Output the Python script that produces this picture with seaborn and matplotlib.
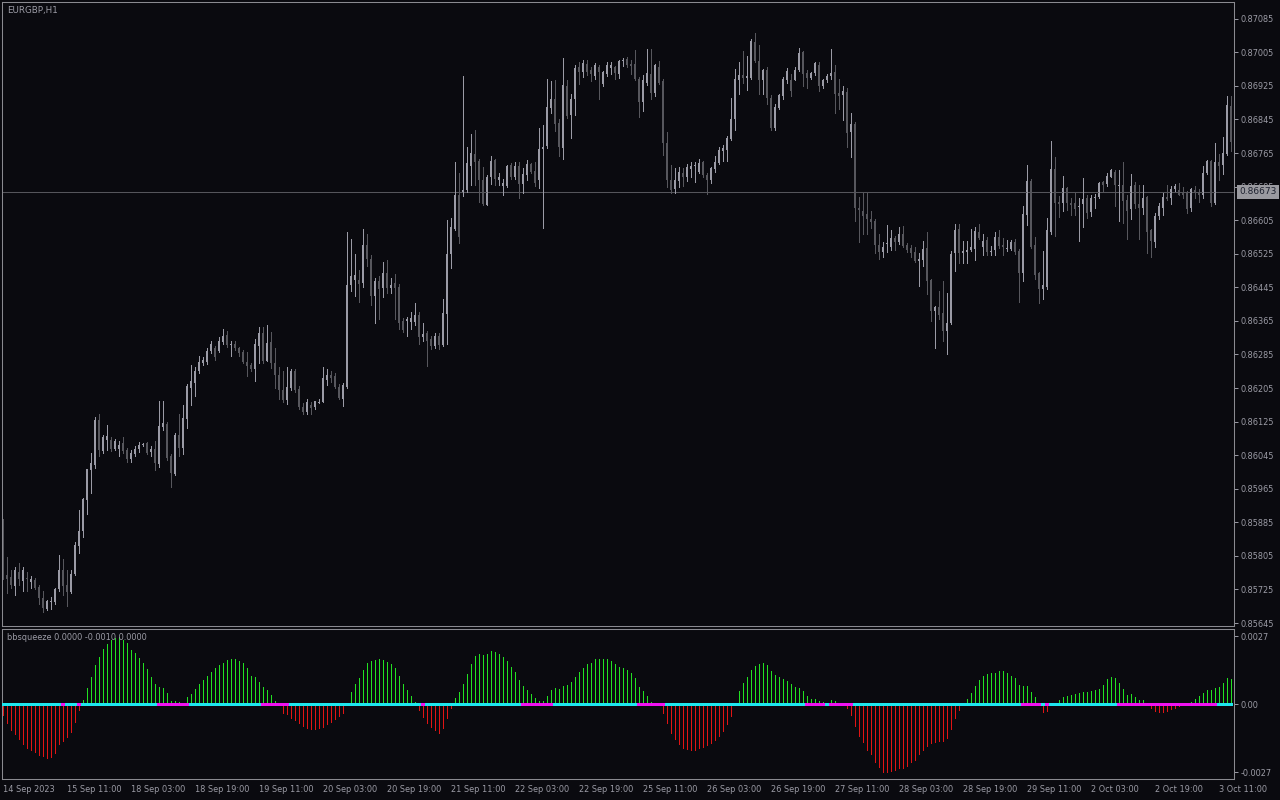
import numpy as np
import pandas as pd
import matplotlib
matplotlib.use("Agg")
import matplotlib.pyplot as plt
import seaborn as sns

# EURGBP H1 candles, prices in points (x 1e-5)
opens = [
    85887, 85759, 85754, 85734, 85766, 85746, 85752, 85743, 85748, 85731,
    85704, 85679, 85697, 85695, 85726, 85771, 85736, 85719, 85761, 85829,
    85865, 85939, 86010, 86021, 86129, 86055, 86081, 86081, 86060, 86060,
    86075, 86058, 86035, 86048, 86060, 86071, 86074, 86052, 86060, 86023,
    86112, 86119, 86043, 86001, 86092, 86061, 86132, 86205, 86218, 86245,
    86265, 86268, 86294, 86301, 86294, 86314, 86331, 86308, 86311, 86301,
    86290, 86268, 86260, 86250, 86306, 86336, 86269, 86315, 86264, 86237,
    86200, 86177, 86205, 86245, 86203, 86161, 86149, 86164, 86161, 86171,
    86172, 86225, 86237, 86233, 86208, 86180, 86208, 86450, 86462, 86463,
    86455, 86547, 86512, 86425, 86460, 86444, 86480, 86444, 86455, 86445,
    86366, 86364, 86362, 86363, 86380, 86326, 86336, 86323, 86306, 86330,
    86308, 86382, 86524, 86585, 86666, 86672, 86677, 86734, 86763, 86746,
    86702, 86641, 86709, 86748, 86702, 86686, 86687, 86737, 86707, 86733,
    86692, 86712, 86739, 86723, 86702, 86775, 86783, 86873, 86895, 86836,
    86778, 86924, 86856, 86893, 86969, 86959, 86978, 86964, 86949, 86969,
    86929, 86953, 86968, 86969, 86954, 86985, 86989, 86978, 86978, 86941,
    86886, 86933, 86954, 86908, 86971, 86936, 86788, 86702, 86679, 86699,
    86718, 86709, 86727, 86735, 86719, 86743, 86712, 86702, 86727, 86742,
    86770, 86773, 86798, 86846, 86940, 86951, 86944, 86944, 87030, 86984,
    86939, 86962, 86896, 86825, 86873, 86901, 86939, 86939, 86938, 86964,
    87006, 86956, 86943, 86956, 86976, 86924, 86938, 86949, 86958, 86907,
    86903, 86911, 86815, 86834, 86635, 86628, 86620, 86609, 86603, 86545,
    86530, 86550, 86540, 86563, 86552, 86573, 86545, 86539, 86529, 86510,
    86510, 86539, 86462, 86389, 86397, 86384, 86340, 86360, 86527, 86583,
    86527, 86530, 86535, 86537, 86578, 86540, 86557, 86530, 86535, 86566,
    86547, 86538, 86537, 86552, 86532, 86479, 86618, 86699, 86547, 86479,
    86440, 86447, 86576, 86728, 86649, 86646, 86681, 86646, 86646, 86638,
    86644, 86659, 86624, 86659, 86661, 86696, 86691, 86709, 86721, 86686,
    86689, 86652, 86631, 86689, 86644, 86634, 86661, 86581, 86553, 86615,
    86633, 86661, 86659, 86679, 86676, 86671, 86671, 86634, 86676, 86671,
    86664, 86717, 86746, 86647, 86744, 86737, 86763, 86876,
]
highs = [
    85892, 85802, 85771, 85779, 85787, 85779, 85766, 85758, 85753, 85736,
    85721, 85701, 85706, 85729, 85807, 85797, 85771, 85771, 85837, 85914,
    85942, 86013, 86050, 86136, 86144, 86094, 86116, 86089, 86084, 86078,
    86089, 86063, 86058, 86066, 86076, 86075, 86076, 86068, 86078, 86175,
    86175, 86124, 86048, 86099, 86144, 86164, 86215, 86260, 86255, 86281,
    86278, 86301, 86316, 86306, 86326, 86346, 86341, 86316, 86316, 86304,
    86296, 86291, 86265, 86321, 86351, 86351, 86356, 86338, 86300, 86255,
    86245, 86255, 86250, 86250, 86210, 86169, 86180, 86172, 86175, 86180,
    86255, 86250, 86245, 86240, 86215, 86217, 86578, 86561, 86525, 86487,
    86583, 86573, 86522, 86467, 86472, 86505, 86510, 86467, 86477, 86452,
    86372, 86375, 86387, 86407, 86387, 86361, 86341, 86328, 86336, 86336,
    86417, 86605, 86610, 86744, 86717, 86949, 86780, 86810, 86820, 86750,
    86731, 86713, 86758, 86750, 86717, 86704, 86737, 86741, 86744, 86744,
    86729, 86749, 86741, 86744, 86825, 86833, 86941, 86936, 86939, 86845,
    86991, 86939, 86906, 86976, 86981, 86986, 86986, 86971, 86979, 86976,
    86961, 86981, 86983, 86973, 86986, 86991, 86993, 86986, 87011, 86946,
    86951, 87014, 87014, 86978, 86984, 86941, 86815, 86736, 86729, 86731,
    86729, 86739, 86744, 86744, 86752, 86745, 86717, 86731, 86758, 86780,
    86785, 86805, 86896, 86966, 86981, 87009, 86996, 87037, 87050, 87023,
    86966, 86971, 86904, 86881, 86906, 86946, 86968, 86953, 86969, 87016,
    87009, 86963, 86958, 86982, 86981, 86941, 86954, 87014, 86974, 86941,
    86926, 86919, 86861, 86840, 86661, 86669, 86669, 86628, 86608, 86573,
    86552, 86593, 86581, 86568, 86588, 86591, 86550, 86545, 86542, 86527,
    86555, 86578, 86465, 86400, 86437, 86459, 86432, 86532, 86595, 86595,
    86555, 86555, 86585, 86588, 86595, 86573, 86565, 86543, 86576, 86581,
    86563, 86559, 86557, 86560, 86537, 86638, 86737, 86704, 86566, 86482,
    86532, 86611, 86793, 86756, 86662, 86711, 86684, 86659, 86669, 86657,
    86706, 86664, 86664, 86667, 86697, 86699, 86717, 86727, 86724, 86724,
    86744, 86664, 86714, 86696, 86689, 86689, 86663, 86583, 86621, 86646,
    86671, 86689, 86687, 86691, 86694, 86684, 86674, 86681, 86687, 86679,
    86734, 86749, 86749, 86790, 86763, 86803, 86901, 86901,
]
lows = [
    85751, 85716, 85729, 85711, 85736, 85721, 85721, 85729, 85726, 85691,
    85671, 85676, 85679, 85691, 85721, 85711, 85686, 85716, 85759, 85812,
    85849, 85905, 85954, 86015, 86043, 86050, 86057, 86056, 86058, 86043,
    86050, 86030, 86028, 86043, 86053, 86068, 86048, 86043, 86010, 86018,
    86104, 86033, 85970, 85998, 86043, 86048, 86109, 86164, 86185, 86240,
    86260, 86263, 86288, 86273, 86291, 86311, 86304, 86281, 86296, 86281,
    86265, 86233, 86245, 86223, 86265, 86265, 86270, 86252, 86205, 86180,
    86172, 86166, 86200, 86195, 86154, 86144, 86144, 86144, 86154, 86169,
    86171, 86212, 86220, 86205, 86178, 86162, 86205, 86437, 86425, 86410,
    86447, 86497, 86402, 86361, 86369, 86422, 86432, 86432, 86370, 86346,
    86338, 86328, 86346, 86356, 86309, 86316, 86258, 86298, 86301, 86298,
    86306, 86311, 86490, 86581, 86551, 86662, 86672, 86689, 86689, 86649,
    86641, 86641, 86692, 86689, 86689, 86664, 86684, 86704, 86704, 86657,
    86671, 86701, 86717, 86687, 86681, 86586, 86777, 86861, 86817, 86758,
    86750, 86849, 86802, 86856, 86929, 86946, 86951, 86936, 86941, 86893,
    86926, 86948, 86953, 86941, 86943, 86973, 86971, 86953, 86939, 86851,
    86866, 86928, 86893, 86901, 86929, 86760, 86684, 86671, 86669, 86684,
    86687, 86699, 86709, 86697, 86717, 86709, 86667, 86694, 86719, 86739,
    86745, 86745, 86795, 86820, 86906, 86931, 86916, 86941, 86981, 86906,
    86906, 86881, 86820, 86820, 86871, 86894, 86931, 86901, 86938, 86961,
    86926, 86921, 86941, 86951, 86913, 86919, 86935, 86941, 86861, 86869,
    86843, 86780, 86755, 86604, 86553, 86573, 86573, 86586, 86527, 86512,
    86517, 86530, 86535, 86535, 86548, 86540, 86529, 86517, 86505, 86449,
    86497, 86430, 86364, 86301, 86370, 86316, 86286, 86358, 86484, 86502,
    86502, 86502, 86532, 86510, 86561, 86522, 86522, 86522, 86522, 86538,
    86522, 86532, 86535, 86525, 86410, 86460, 86593, 86539, 86465, 86407,
    86417, 86440, 86573, 86568, 86613, 86627, 86629, 86618, 86618, 86555,
    86588, 86611, 86614, 86634, 86659, 86674, 86687, 86707, 86639, 86604,
    86598, 86560, 86608, 86634, 86560, 86619, 86527, 86517, 86541, 86608,
    86618, 86652, 86644, 86674, 86664, 86659, 86622, 86627, 86659, 86649,
    86659, 86714, 86638, 86644, 86702, 86714, 86760, 86770,
]
closes = [
    85756, 85751, 85736, 85771, 85751, 85771, 85750, 85751, 85729, 85704,
    85681, 85698, 85699, 85725, 85771, 85734, 85719, 85763, 85831, 85865,
    85940, 86011, 86026, 86129, 86058, 86089, 86091, 86060, 86079, 86070,
    86056, 86035, 86051, 86060, 86070, 86072, 86050, 86060, 86026, 86114,
    86121, 86038, 86003, 86094, 86061, 86134, 86210, 86222, 86245, 86267,
    86273, 86293, 86311, 86278, 86316, 86328, 86308, 86310, 86300, 86288,
    86266, 86258, 86250, 86310, 86336, 86269, 86313, 86265, 86235, 86200,
    86177, 86207, 86245, 86200, 86159, 86149, 86172, 86157, 86174, 86173,
    86228, 86237, 86229, 86208, 86182, 86213, 86450, 86472, 86475, 86454,
    86547, 86512, 86424, 86460, 86442, 86480, 86444, 86450, 86444, 86361,
    86343, 86369, 86371, 86380, 86326, 86333, 86318, 86306, 86330, 86308,
    86384, 86525, 86588, 86666, 86566, 86676, 86741, 86765, 86744, 86702,
    86643, 86708, 86746, 86704, 86709, 86694, 86734, 86707, 86733, 86691,
    86716, 86739, 86721, 86694, 86774, 86779, 86875, 86895, 86835, 86779,
    86927, 86853, 86895, 86967, 86958, 86979, 86959, 86953, 86974, 86958,
    86957, 86974, 86976, 86955, 86984, 86987, 86974, 86973, 86941, 86886,
    86938, 86956, 86909, 86974, 86931, 86790, 86702, 86677, 86701, 86721,
    86709, 86731, 86734, 86737, 86742, 86712, 86702, 86729, 86744, 86773,
    86776, 86800, 86847, 86942, 86952, 86944, 86948, 87032, 86984, 86939,
    86963, 86896, 86825, 86874, 86904, 86941, 86961, 86913, 86964, 87004,
    86954, 86944, 86956, 86979, 86926, 86938, 86948, 86956, 86906, 86901,
    86914, 86812, 86834, 86633, 86629, 86616, 86608, 86600, 86545, 86530,
    86542, 86552, 86563, 86553, 86573, 86543, 86535, 86527, 86507, 86512,
    86537, 86459, 86389, 86397, 86380, 86340, 86361, 86525, 86581, 86527,
    86532, 86535, 86540, 86580, 86563, 86555, 86529, 86532, 86566, 86543,
    86540, 86540, 86552, 86530, 86479, 86620, 86699, 86542, 86475, 86440,
    86450, 86581, 86726, 86647, 86644, 86681, 86647, 86642, 86632, 86640,
    86656, 86622, 86659, 86662, 86694, 86689, 86711, 86724, 86689, 86689,
    86651, 86628, 86686, 86644, 86634, 86659, 86578, 86556, 86616, 86638,
    86660, 86656, 86679, 86686, 86666, 86666, 86632, 86679, 86671, 86664,
    86717, 86746, 86647, 86744, 86734, 86765, 86879, 86792,
]

# bbsqueeze momentum histogram (x 1e-4)
momentum = [
    -4.2, -7.3, -10.2, -11.9, -13.9, -15.9, -17.2, -18.1, -19.1, -20.1,
    -20.5, -21.2, -20.8, -19.2, -15.9, -14.6, -12.8, -11.1, -6.9, -2.2,
    1.7, 6.6, 10.7, 15.6, 18.9, 22.0, 24.0, 25.5, 26.5, 26.6,
    25.5, 24.2, 21.6, 20.2, 18.3, 16.5, 13.9, 11.0, 8.1, 7.0,
    6.4, 4.6, 1.3, 1.3, 0.8, 0.5, 3.0, 4.1, 6.0, 8.1,
    9.7, 11.2, 13.0, 14.3, 15.6, 16.5, 17.7, 17.9, 17.9, 17.3,
    16.5, 14.6, 11.2, 10.7, 9.0, 7.0, 5.7, 3.7, 1.3, 0.1,
    -3.3, -4.0, -5.3, -6.2, -7.5, -8.6, -9.3, -9.9, -9.9, -9.5,
    -8.9, -8.0, -6.9, -6.0, -4.5, -3.6, 0.2, 5.0, 8.2, 10.6,
    13.6, 16.5, 17.2, 17.7, 17.9, 17.7, 16.9, 15.9, 14.6, 11.2,
    8.1, 5.7, 3.4, 1.1, -2.2, -4.9, -7.3, -8.9, -10.2, -11.2,
    -9.5, -5.6, -1.6, 2.6, 5.0, 8.1, 12.0, 16.0, 19.2, 20.0,
    19.6, 20.0, 21.2, 20.9, 20.0, 18.7, 17.3, 15.0, 13.0, 9.7,
    7.3, 5.7, 4.1, 2.6, 1.3, 1.3, 3.4, 5.7, 6.6, 6.1,
    7.3, 7.7, 9.0, 11.0, 13.0, 14.6, 15.9, 16.5, 17.9, 18.0,
    18.0, 18.0, 17.2, 15.9, 15.0, 14.3, 13.6, 12.3, 10.6, 7.0,
    5.3, 3.3, 0.8, 0.3, -0.3, -3.3, -7.5, -11.2, -13.8, -15.7,
    -17.2, -17.7, -18.1, -18.1, -17.2, -16.8, -16.1, -15.5, -14.2, -12.6,
    -10.5, -7.8, -4.5, -0.3, 5.4, 8.6, 11.0, 13.6, 15.2, 16.0,
    16.5, 15.6, 13.4, 11.6, 10.7, 10.1, 9.3, 8.1, 7.0, 6.6,
    5.4, 3.3, 2.1, 2.1, 1.3, 0.8, 0.2, 1.7, 1.3, 0.2,
    -0.2, -1.6, -4.2, -8.5, -12.4, -15.1, -18.1, -19.9, -22.8, -24.7,
    -26.7, -26.7, -26.5, -26.1, -25.4, -25.1, -24.4, -23.0, -22.1, -19.9,
    -18.1, -16.4, -15.5, -15.1, -14.6, -14.4, -13.5, -9.8, -5.3, -2.4,
    -0.2, 2.1, 4.4, 7.3, 9.7, 11.2, 12.0, 12.3, 12.6, 13.2,
    13.2, 12.3, 11.4, 10.3, 7.7, 7.3, 7.3, 5.0, 3.0, 0.2,
    -2.9, -2.5, -0.2, 0.2, 1.7, 3.0, 3.4, 3.7, 4.1, 4.6,
    5.0, 5.0, 5.4, 5.7, 6.1, 7.7, 9.9, 11.0, 10.3, 8.3,
    6.1, 3.7, 4.1, 3.0, 1.7, 1.7, 0.2, -1.6, -2.6, -2.9,
    -2.9, -2.6, -1.9, -1.3, -0.5, -0.3, -0.1, 1.1, 2.1, 3.3,
    4.4, 5.7, 5.7, 6.4, 7.0, 8.3, 10.6, 10.1,
]

# bars where the squeeze is on (magenta dots), inclusive ranges
squeeze_on = [(15, 15), (19, 19), (39, 46), (65, 71), (105, 105), (130, 137),
              (159, 165), (201, 205), (207, 212), (255, 259), (261, 261), (279, 303)]

time_labels = ["14 Sep 2023", "15 Sep 11:00", "18 Sep 03:00", "18 Sep 19:00",
               "19 Sep 11:00", "20 Sep 03:00", "20 Sep 19:00", "21 Sep 11:00",
               "22 Sep 03:00", "22 Sep 19:00", "25 Sep 11:00", "26 Sep 03:00",
               "26 Sep 19:00", "27 Sep 11:00", "28 Sep 03:00", "28 Sep 19:00",
               "29 Sep 11:00", "2 Oct 03:00", "2 Oct 19:00", "3 Oct 11:00"]
label_every = 16

price_labels = ["0.87085", "0.87005", "0.86925", "0.86845", "0.86765", "0.86685",
                "0.86605", "0.86525", "0.86445", "0.86365", "0.86285", "0.86205",
                "0.86125", "0.86045", "0.85965", "0.85885", "0.85805", "0.85725",
                "0.85645"]
bid = 0.86673

bg = "#0a0a0f"
fg = "#9c9ca6"
edge = "#8a8a90"
bull = "#9b9ba6"
bear = "#57575d"

sns.set_style("dark", rc={"axes.facecolor": bg, "figure.facecolor": bg,
                          "axes.edgecolor": edge, "text.color": fg,
                          "xtick.color": fg, "ytick.color": fg,
                          "axes.grid": False})
plt.rcParams["font.family"] = ["DejaVu Sans"]
fs = 5.9

n = len(opens)
df = pd.DataFrame({"bar": np.arange(n),
                   "open": np.array(opens) / 1e5, "high": np.array(highs) / 1e5,
                   "low": np.array(lows) / 1e5, "close": np.array(closes) / 1e5,
                   "mom": np.array(momentum) * 1e-4})
df["up"] = df["close"] >= df["open"]
state = np.array(["off"] * n, dtype=object)
for a, b in squeeze_on:
    state[a:b + 1] = "on"
df["squeeze"] = state

fig = plt.figure(figsize=(12.8, 8), dpi=100)
W, H = 1280, 800


def box(l, t, r, b):
    return [l / W, 1 - b / H, (r - l) / W, (b - t) / H]


ax = fig.add_axes(box(2, 2, 1234, 626))
ax2 = fig.add_axes(box(2, 629, 1234, 779))

# candles
for up, col in [(True, bull), (False, bear)]:
    d = df[df["up"] == up]
    ax.vlines(d["bar"], d["low"], d["high"], color=col, lw=0.5, antialiased=False)
    diff = d["close"] - d["open"]
    body = diff.where(diff.abs() > 0.00003, 0.00003)
    base = d["open"].where(diff.abs() > 0.00003, d["open"] - 0.000015)
    ax.bar(d["bar"], body, bottom=base, width=0.7, color=col, linewidth=0)

ax.axhline(bid, color="#55555b", lw=0.75, zorder=1)
ax.set_xlim(-0.25, 307.75)
ax.set_ylim(0.85638, 0.87125)
ax.yaxis.tick_right()
ax.set_yticks([float(t) for t in price_labels])
ax.set_yticklabels(price_labels)
ax.tick_params(axis="y", length=3, width=0.7, pad=2, labelsize=fs, colors=fg)
ax.tick_params(axis="x", length=0, labelbottom=False)
ax.text(1.0045, bid, "0.86673", transform=ax.get_yaxis_transform(), ha="left",
        va="center", fontsize=fs + 0.6, color="#1e2230", zorder=10, clip_on=False,
        bbox=dict(boxstyle="square,pad=0.28", fc="#9a9aa0", ec="none"))

# squeeze histogram
colors = np.where(df["mom"] >= 0, "#22e022", "#e01414")
ax2.vlines(df["bar"], 0, df["mom"], colors=colors, lw=0.5, antialiased=False)
sns.scatterplot(data=df, x="bar", y=np.zeros(n), hue="squeeze",
                palette={"off": "#1ee6ee", "on": "#f012f0"}, marker="s", s=6,
                linewidth=0, legend=False, ax=ax2, zorder=3)
ax2.set_xlim(-0.25, 307.75)
ax2.set_ylim(-0.002966, 0.00299)
ax2.set_xlabel("")
ax2.set_ylabel("")
ax2.yaxis.tick_right()
ax2.set_yticks([0.0027, 0.0, -0.0027])
ax2.set_yticklabels(["0.0027", "0.00", "-0.0027"])
ax2.set_xticks([label_every * k for k in range(len(time_labels))])
ax2.set_xticklabels(time_labels, ha="left")
ax2.tick_params(axis="y", length=3, width=0.7, pad=2, labelsize=fs, colors=fg)
ax2.tick_params(axis="x", length=3, width=0.7, pad=1.5, labelsize=fs, colors=fg)

for a in (ax, ax2):
    for s in a.spines.values():
        s.set_color(edge)
        s.set_linewidth(0.75)

fig.text(7 / W, 1 - 10 / H, "EURGBP,H1", fontsize=fs + 0.4, color=fg, va="center")
fig.text(7 / W, 1 - 638 / H, "bbsqueeze 0.0000 -0.0010 0.0000", fontsize=fs,
         color=fg, va="center")

fig.savefig("out.png", dpi=100, facecolor=bg)
